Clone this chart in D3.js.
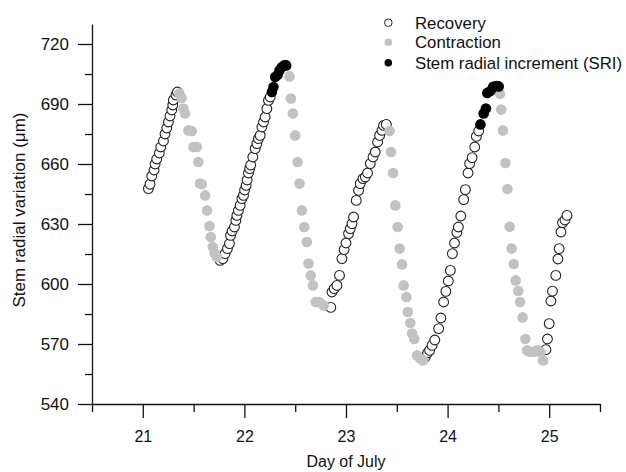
<!DOCTYPE html>
<html>
<head>
<meta charset="utf-8">
<script src="https://cdn.jsdelivr.net/npm/d3@7"></script>
<style>
  body { margin: 0; background: #fff; }
  svg { display: block; }
  text { font-family: "Liberation Sans", Arial, sans-serif; fill: #111; }
</style>
</head>
<body>
<svg id="chart" width="626" height="472"></svg>
<script>
// ---- Data (day of July, stem radial variation in µm) ----
const recoveryDay = [
  21.055, 21.071, 21.088, 21.111, 21.121, 21.137, 21.163, 21.177, 21.203, 21.219, 21.236, 21.252, 21.268, 21.285, 21.295, 21.301, 21.327, 21.340,
  21.761, 21.788, 21.810, 21.833, 21.853, 21.864, 21.879, 21.902, 21.916, 21.926, 21.941, 21.958, 21.975, 21.991, 22.002, 22.017, 22.027, 22.040, 22.052, 22.062, 22.083, 22.106, 22.123, 22.138, 22.155, 22.172, 22.188, 22.204, 22.221, 22.237, 22.254,
  22.850, 22.862, 22.884, 22.911, 22.936, 22.960, 22.981, 23.000, 23.025, 23.042, 23.059, 23.074, 23.101, 23.124, 23.140, 23.167, 23.190, 23.212, 23.239, 23.266, 23.288, 23.311, 23.331, 23.354, 23.370, 23.397,
  23.781, 23.803, 23.823, 23.847, 23.874, 23.912, 23.934, 23.961, 23.983, 24.007, 24.027, 24.047, 24.068, 24.091, 24.106, 24.130, 24.158, 24.175, 24.201, 24.217, 24.241, 24.267, 24.283, 24.306,
  24.968, 24.983, 25.000, 25.017, 25.032, 25.065, 25.086, 25.098, 25.116, 25.131, 25.155, 25.175
];
const recoveryVal = [
  647.7, 649.9, 654.0, 657.0, 660.0, 662.5, 665.5, 668.5, 671.5, 675.0, 678.0, 681.0, 684.0, 687.0, 689.5, 692.0, 694.5, 696.0,
  611.8, 612.7, 615.2, 617.7, 620.2, 624.3, 626.5, 628.5, 631.8, 634.3, 636.8, 639.3, 642.7, 644.3, 647.0, 649.3, 652.0, 655.5, 657.7, 659.5, 663.5, 667.7, 670.2, 672.7, 674.3, 678.5, 681.0, 683.5, 687.7, 691.8, 693.5,
  588.3, 596.0, 597.7, 599.3, 604.3, 612.7, 617.2, 620.5, 625.2, 627.7, 630.2, 633.5, 641.8, 646.8, 650.2, 652.7, 653.5, 655.5, 660.2, 663.5, 666.0, 671.0, 674.3, 676.8, 679.3, 679.8,
  563.5, 565.5, 566.8, 569.3, 572.0, 577.7, 583.0, 591.0, 596.3, 601.5, 606.8, 615.2, 620.5, 625.8, 628.5, 634.0, 642.2, 647.2, 655.5, 660.2, 663.2, 668.5, 673.8, 676.5,
  567.2, 572.5, 580.2, 591.5, 596.4, 604.3, 612.5, 617.7, 626.0, 630.7, 632.0, 634.3
];
const contractionDay = [
  21.360, 21.382, 21.399, 21.416, 21.449, 21.482, 21.498, 21.532, 21.547, 21.564, 21.581, 21.613, 21.633, 21.656, 21.669, 21.689, 21.707, 21.729,
  22.444, 22.458, 22.477, 22.500, 22.523, 22.542, 22.566, 22.589, 22.615, 22.631, 22.653, 22.674, 22.702, 22.739, 22.780,
  23.429, 23.443, 23.463, 23.485, 23.508, 23.528, 23.551, 23.567, 23.594, 23.608, 23.633, 23.650, 23.672, 23.699, 23.732, 23.758,
  24.515, 24.527, 24.546, 24.569, 24.589, 24.611, 24.630, 24.651, 24.670, 24.695, 24.714, 24.738, 24.766, 24.783, 24.815, 24.848, 24.881, 24.914, 24.940
];
const contractionVal = [
  695.2, 693.0, 687.7, 685.2, 676.8, 676.5, 668.5, 668.5, 661.0, 650.2, 650.0, 644.3, 636.8, 629.0, 623.5, 618.5, 615.5, 613.5,
  703.8, 692.7, 685.2, 674.3, 661.0, 650.2, 636.8, 628.5, 621.0, 610.2, 604.3, 599.3, 591.0, 591.0, 589.3,
  676.5, 666.0, 655.5, 639.3, 628.5, 617.7, 609.8, 599.3, 593.5, 586.0, 580.5, 575.2, 572.5, 564.3, 562.7, 561.8,
  695.0, 687.2, 676.8, 660.5, 647.5, 628.6, 617.7, 610.0, 601.8, 596.5, 591.0, 583.3, 572.5, 566.8, 566.0, 566.0, 566.8, 566.0, 561.8
];
const sriDay = [
  22.270, 22.286, 22.303, 22.326, 22.345, 22.369, 22.392, 22.411,
  24.323, 24.355, 24.377, 24.390, 24.421, 24.449, 24.480, 24.503
];
const sriVal = [
  696.0, 698.5, 703.5, 704.5, 706.8, 708.5, 709.3, 709.3,
  679.8, 685.3, 687.7, 695.5, 696.5, 698.6, 699.0, 698.8
];
const xMajorTicks = [21, 22, 23, 24, 25];
const xMinorTicks = [20.5, 21.5, 22.5, 23.5, 24.5, 25.5];
const yMajorTicks = [540, 570, 600, 630, 660, 690, 720];
const yMinorTicks = [555, 585, 615, 645, 675, 705];
const legendLabels = ["Recovery", "Contraction", "Stem radial increment (SRI)"];
const xTitle = "Day of July";
const yTitle = "Stem radial variation (\u03bcm)";

// ---- Layout ----
const svg = d3.select("#chart");
const mLeft = 92, mRight = 600, mTop = 24, mBottom = 404;
const x = d3.scaleLinear().domain([20.5, 25.5]).range([mLeft, mRight]);
const y = d3.scaleLinear().domain([540, 730]).range([mBottom, mTop]);

const zip = (a, b) => a.map((d, i) => ({ d, v: b[i] }));
const recovery = zip(recoveryDay, recoveryVal);
const contraction = zip(contractionDay, contractionVal);
const sri = zip(sriDay, sriVal);

// axes
const gx = svg.append("g").attr("transform", `translate(0,${mBottom})`)
  .call(d3.axisBottom(x).tickValues(xMajorTicks).tickFormat(d3.format("d"))
    .tickSize(14).tickSizeOuter(0).tickPadding(13));
const gxm = svg.append("g").attr("transform", `translate(0,${mBottom})`)
  .call(d3.axisBottom(x).tickValues(xMinorTicks).tickFormat("").tickSize(8).tickSizeOuter(0));
const gy = svg.append("g").attr("transform", `translate(${mLeft},0)`)
  .call(d3.axisLeft(y).tickValues(yMajorTicks).tickFormat(d3.format("d"))
    .tickSize(14).tickSizeOuter(0).tickPadding(9));
const gym = svg.append("g").attr("transform", `translate(${mLeft},0)`)
  .call(d3.axisLeft(y).tickValues(yMinorTicks).tickFormat("").tickSize(7).tickSizeOuter(0));

[gx, gxm, gy, gym].forEach(g => {
  g.selectAll("path, line").attr("stroke", "#111").attr("stroke-width", 1.3);
  g.selectAll("text").style("font-size", "16px").attr("fill", "#111");
});
gy.selectAll("text").style("font-size", "17px");
gxm.select(".domain").remove();
gym.select(".domain").remove();

// titles
svg.append("text").attr("x", 346).attr("y", 467).attr("text-anchor", "middle")
  .style("font-size", "16px").text(xTitle);
svg.append("text").attr("transform", "translate(25,210) rotate(-90)")
  .attr("text-anchor", "middle").style("font-size", "17px").text(yTitle);

// points
const R = 4.9;
svg.append("g").selectAll("circle").data(recovery).join("circle")
  .attr("cx", p => x(p.d)).attr("cy", p => y(p.v)).attr("r", R)
  .attr("fill", "#fff").attr("stroke", "#222").attr("stroke-width", 1.1);
svg.append("g").selectAll("circle").data(contraction).join("circle")
  .attr("cx", p => x(p.d)).attr("cy", p => y(p.v)).attr("r", R + 0.4)
  .attr("fill", "#c2c2c2");
svg.append("g").selectAll("circle").data(sri).join("circle")
  .attr("cx", p => x(p.d)).attr("cy", p => y(p.v)).attr("r", R + 0.4)
  .attr("fill", "#000");

// legend
const leg = svg.append("g");
const legStyles = [
  { fill: "#fff", stroke: "#222" },
  { fill: "#c2c2c2", stroke: "none" },
  { fill: "#000", stroke: "none" }
];
const legY = [22.7, 42.2, 62.7];
legendLabels.forEach((lab, i) => {
  leg.append("circle").attr("cx", 388.3).attr("cy", legY[i]).attr("r", 3.8)
    .attr("fill", legStyles[i].fill).attr("stroke", legStyles[i].stroke).attr("stroke-width", 1);
  leg.append("text").attr("x", 415).attr("y", legY[i] + 6).style("font-size", "16.8px").text(lab);
});
</script>
</body>
</html>
